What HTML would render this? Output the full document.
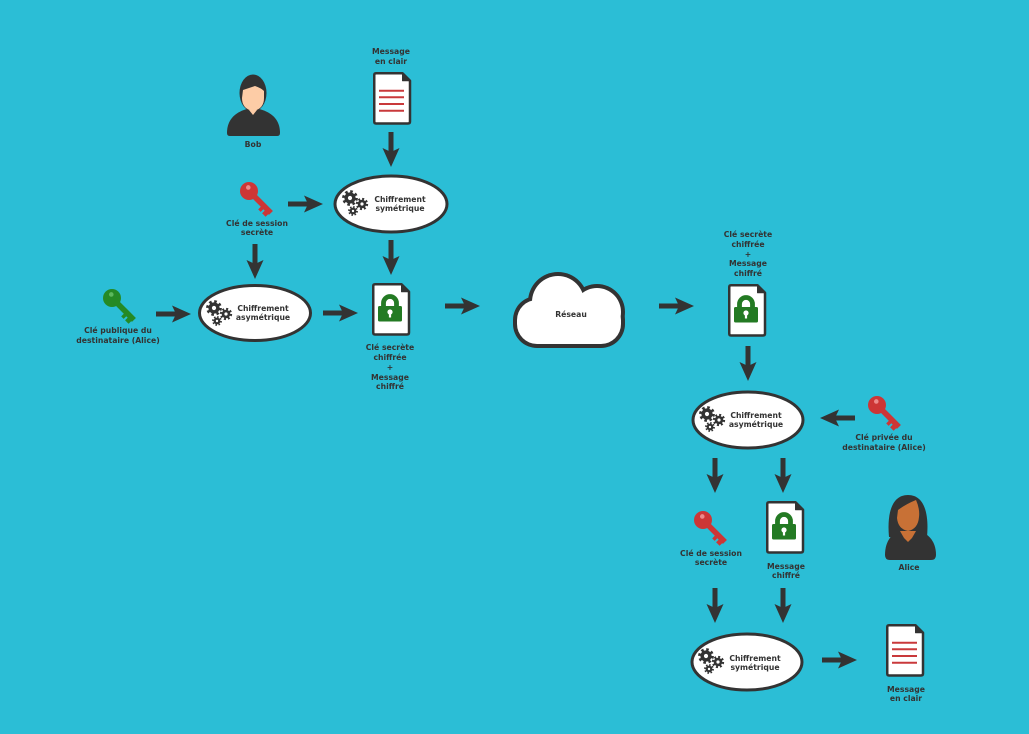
<!DOCTYPE html>
<html><head><meta charset="utf-8"><style>
html,body{margin:0;padding:0;background:#2bbed6;}
svg{display:block;}
text{font-family:"DejaVu Sans","Liberation Sans",sans-serif;font-weight:bold;font-size:7.7px;fill:#333;text-anchor:middle;}
</style></head><body>
<svg width="1029" height="734" viewBox="0 0 1029 734" xmlns="http://www.w3.org/2000/svg">
<defs>
<g id="ar" fill="#333"><rect x="0" y="-2.5" width="21" height="5"/><path d="M35,0 L16,-8.5 L20,0 L16,8.5Z"/></g>
<g id="doc">
<path d="M3,1.25 H29.5 L37,8.75 V49.5 Q37,51.5 35,51.5 H3 Q1.25,51.5 1.25,49.5 V3 Q1.25,1.25 3,1.25 Z" fill="#fff" stroke="#333" stroke-width="2.5" stroke-linejoin="round"/>
<path d="M29.5,1.25 V8.75 H37 Z" fill="#333" stroke="#333" stroke-width="1" stroke-linejoin="round"/>
</g>
<g id="pdoc"><use href="#doc"/>
<g stroke="#c9393b" stroke-width="2"><line x1="6" y1="18.7" x2="31" y2="18.7"/><line x1="6" y1="25.3" x2="31" y2="25.3"/><line x1="6" y1="32" x2="31" y2="32"/><line x1="6" y1="38.7" x2="31" y2="38.7"/></g>
</g>
<g id="ldoc"><use href="#doc"/>
<path d="M11.5,24 V20 A6.5,6.5 0 0 1 24.5,20 V24" fill="none" stroke="#237a23" stroke-width="4.8"/>
<rect x="6" y="23" width="24" height="15.5" rx="1.5" fill="#237a23"/>
<circle cx="18" cy="29" r="2.6" fill="#fff"/><rect x="16.9" y="29" width="2.2" height="5.5" fill="#fff"/>
</g>
<g id="gears">
<circle r="5.6" fill="#333"/><circle r="6.4" fill="none" stroke="#333" stroke-width="3" stroke-dasharray="2.513 2.513"/><circle r="2.1" fill="#fff"/>
<g transform="translate(12,6)"><circle r="4.3" fill="#333"/><circle r="4.9" fill="none" stroke="#333" stroke-width="2.5" stroke-dasharray="1.924 1.924"/><circle r="1.6" fill="#fff"/></g>
<g transform="translate(3,13)"><circle r="3.4" fill="#333"/><circle r="3.9" fill="none" stroke="#333" stroke-width="2" stroke-dasharray="1.531 1.531"/><circle r="1.2" fill="#fff"/></g>
</g>
<g id="keyr" fill="#cd3636">
<circle r="9"/><rect x="4" y="-2.8" width="27" height="5.6"/><rect x="19.5" y="1" width="3.5" height="5.5"/><rect x="25" y="1" width="5" height="5.5"/>
<circle cx="-3" cy="-2" r="2.3" fill="#ec8a8a"/>
</g>
<g id="keyg" fill="#258a25">
<circle r="9"/><rect x="4" y="-2.8" width="27" height="5.6"/><rect x="19.5" y="1" width="3.5" height="5.5"/><rect x="25" y="1" width="5" height="5.5"/>
<circle cx="-3" cy="-2" r="2.3" fill="#5cb85c"/>
</g>
</defs>

<!-- Bob -->
<path d="M227,133 C227,119 236,112 247,109 L259,109 C271,112 280,119 280,133 Q280,136 277,136 L230,136 Q227,136 227,133 Z" fill="#333"/>
<ellipse cx="253" cy="93" rx="13.5" ry="18.5" fill="#333"/>
<path d="M243,90 Q249,88 255,86 Q261,88 264,91 L264,98 Q264,109 253,111 Q242,109 242,98 Z" fill="#fdcca6"/>
<path d="M249,110 L253,115 L257,110 Z" fill="#fdcca6"/>
<text x="253" y="147">Bob</text>

<!-- Message en clair top -->
<text x="391" y="54">Message</text><text x="391" y="64">en clair</text>
<use href="#pdoc" x="373" y="72"/>
<use href="#ar" transform="translate(391,132) rotate(90)"/>

<!-- E1 -->
<ellipse cx="391" cy="204" rx="56" ry="28" fill="#fff" stroke="#333" stroke-width="3"/>
<use href="#gears" transform="translate(350,198)"/>
<text x="400" y="202">Chiffrement</text><text x="400" y="211">symétrique</text>

<!-- Key 1 -->
<use href="#keyr" transform="translate(249,191) rotate(45)"/>
<text x="257" y="226">Clé de session</text><text x="257" y="235">secrète</text>
<use href="#ar" transform="translate(288,204)"/>
<use href="#ar" transform="translate(255,244) rotate(90)"/>
<use href="#ar" transform="translate(391,240) rotate(90)"/>

<!-- Green key -->
<use href="#keyg" transform="translate(112,298) rotate(45)"/>
<text x="118" y="333">Clé publique du</text><text x="118" y="343">destinataire (Alice)</text>
<use href="#ar" transform="translate(156,314)"/>

<!-- E2 -->
<ellipse cx="255" cy="313" rx="55.5" ry="27.5" fill="#fff" stroke="#333" stroke-width="3"/>
<use href="#gears" transform="translate(214,308)"/>
<text x="263" y="311">Chiffrement</text><text x="263" y="320">asymétrique</text>
<use href="#ar" transform="translate(323,313)"/>

<!-- Lock doc 1 -->
<use href="#ldoc" x="372" y="283"/>
<text x="390" y="350">Clé secrète</text><text x="390" y="360">chiffrée</text><text x="390" y="370">+</text><text x="390" y="380">Message</text><text x="390" y="389">chiffré</text>
<use href="#ar" transform="translate(445,306)"/>

<!-- Cloud -->
<g fill="#333">
<rect x="513" y="296" width="112" height="52" rx="24"/>
<circle cx="558" cy="302" r="30"/>
<circle cx="597" cy="312" r="28"/>
</g>
<g fill="#fff">
<rect x="517" y="300" width="104" height="44" rx="20"/>
<circle cx="558" cy="302" r="26"/>
<circle cx="597" cy="312" r="24"/>
</g>
<text x="571" y="317">Réseau</text>
<use href="#ar" transform="translate(659,306)"/>

<!-- Right side -->
<text x="748" y="237">Clé secrète</text><text x="748" y="247">chiffrée</text><text x="748" y="257">+</text><text x="748" y="266">Message</text><text x="748" y="276">chiffré</text>
<use href="#ldoc" x="728" y="284"/>
<use href="#ar" transform="translate(748,346) rotate(90)"/>

<!-- E3 -->
<ellipse cx="748" cy="420" rx="55" ry="28" fill="#fff" stroke="#333" stroke-width="3"/>
<use href="#gears" transform="translate(707,414)"/>
<text x="756" y="418">Chiffrement</text><text x="756" y="427">asymétrique</text>
<use href="#ar" transform="translate(855,418) rotate(180)"/>
<use href="#keyr" transform="translate(877,405) rotate(45)"/>
<text x="884" y="440">Clé privée du</text><text x="884" y="450">destinataire (Alice)</text>

<use href="#ar" transform="translate(715,458) rotate(90)"/>
<use href="#ar" transform="translate(783,458) rotate(90)"/>

<use href="#keyr" transform="translate(703,520) rotate(45)"/>
<text x="711" y="556">Clé de session</text><text x="711" y="565">secrète</text>
<use href="#ldoc" x="766" y="501"/>
<text x="786" y="569">Message</text><text x="786" y="578">chiffré</text>

<!-- Alice -->
<path d="M885,555 C885,540 893,532 903,529 L914,529 C927,532 936,540 936,555 Q936,560 931,560 L890,560 Q885,560 885,555 Z" fill="#333"/>
<path d="M889,537 C887,515 891,495 908,495 C925,495 929,515 927,537 Z" fill="#333"/>
<path d="M898,510 Q906,504 916,500 Q920,509 919,517 Q918,529 908,531 Q898,529 897,518 Z" fill="#c87136"/>
<path d="M900,531 L916,531 L912,538 L908,542 L904,538 Z" fill="#c87136"/>
<text x="909" y="570">Alice</text>

<use href="#ar" transform="translate(715,588) rotate(90)"/>
<use href="#ar" transform="translate(783,588) rotate(90)"/>

<!-- E4 -->
<ellipse cx="747" cy="662" rx="55" ry="28" fill="#fff" stroke="#333" stroke-width="3"/>
<use href="#gears" transform="translate(706,656)"/>
<text x="755" y="661">Chiffrement</text><text x="755" y="670">symétrique</text>
<use href="#ar" transform="translate(822,660)"/>

<use href="#pdoc" x="886" y="624"/>
<text x="906" y="692">Message</text><text x="906" y="701">en clair</text>
</svg>
</body></html>
